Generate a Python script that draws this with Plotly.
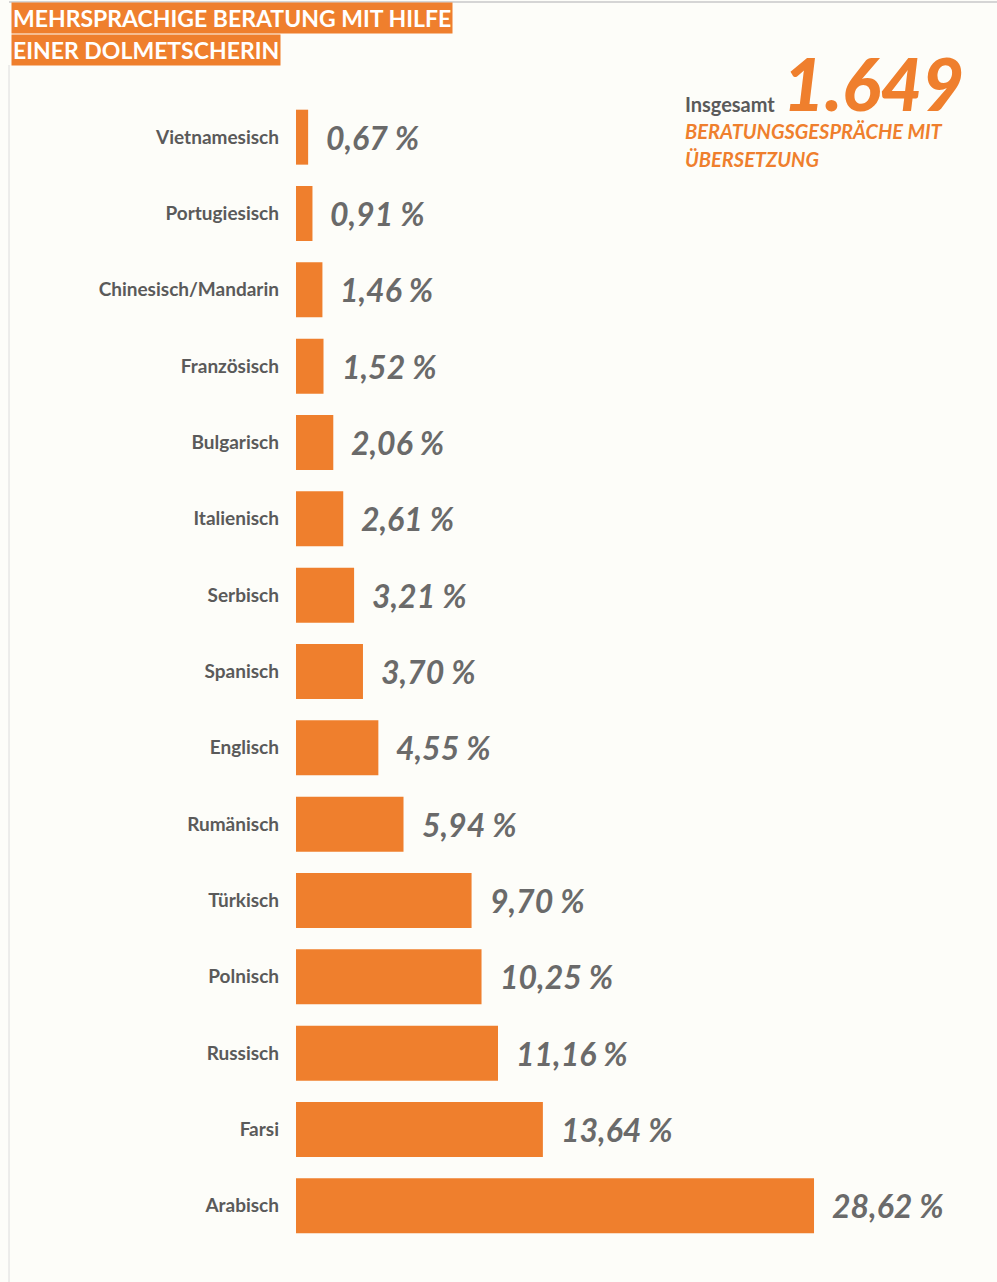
import plotly.graph_objects as go

categories = ["Vietnamesisch", "Portugiesisch", "Chinesisch/Mandarin", "Französisch",
              "Bulgarisch", "Italienisch", "Serbisch", "Spanisch", "Englisch",
              "Rumänisch", "Türkisch", "Polnisch", "Russisch", "Farsi", "Arabisch"]
values = [0.67, 0.91, 1.46, 1.52, 2.06, 2.61, 3.21, 3.70, 4.55, 5.94, 9.70, 10.25, 11.16, 13.64, 28.62]
value_labels = ["0,67 %", "0,91 %", "1,46 %", "1,52 %", "2,06 %", "2,61 %", "3,21 %", "3,70 %",
                "4,55 %", "5,94 %", "9,70 %", "10,25 %", "11,16 %", "13,64 %", "28,62 %"]
title_lines = ["MEHRSPRACHIGE BERATUNG MIT HILFE", "EINER DOLMETSCHERIN"]
total_label = "Insgesamt"
total_value = "1.649"
total_sub = ["BERATUNGSGESPRÄCHE MIT", "ÜBERSETZUNG"]

ORANGE = "#EF7F2D"
GREY = "#5a5a5a"
VGREY = "#6a6a6a"
BG = "#fdfdf9"
FONT = "Lato"

W, H = 997, 1282
PW, PH = 688, 1145
L, T = 296, 99
R, B = W - L - PW, H - T - PH

def px(x):
    return (x - L) / PW

def py(y):
    return 1 - (y - T) / PH

fig = go.Figure()
fig.add_trace(go.Bar(
    x=values, y=categories, orientation="h",
    marker=dict(color=ORANGE, line=dict(width=0)),
    width=0.72, hoverinfo="skip",
))

annotations = []
for c, v, t in zip(categories, values, value_labels):
    annotations.append(dict(
        x=v, y=c, xref="x", yref="y", text=t, showarrow=False,
        xanchor="left", yanchor="middle", xshift=16,
        font=dict(family=FONT, size=32, color=VGREY, weight="bold", style="italic"),
    ))

for i, line in enumerate(title_lines):
    annotations.append(dict(
        x=px(11), y=py(18 + 32 * i), xref="paper", yref="paper",
        text=line, showarrow=False, xanchor="left", yanchor="middle",
        bgcolor=ORANGE, borderpad=1,
        font=dict(family=FONT, size=23, color="white", weight="bold"),
    ))

annotations.append(dict(
    x=px(683), y=py(104), xref="paper", yref="paper", text=total_label,
    showarrow=False, xanchor="left", yanchor="middle",
    font=dict(family=FONT, size=20, color=GREY, weight="bold"),
))
annotations.append(dict(
    x=px(781), y=py(83), xref="paper", yref="paper", text=total_value,
    showarrow=False, xanchor="left", yanchor="middle",
    font=dict(family=FONT, size=72, color=ORANGE, weight=900, style="italic"),
))
for i, line in enumerate(total_sub):
    annotations.append(dict(
        x=px(683), y=py(131 + 28 * i), xref="paper", yref="paper", text=line,
        showarrow=False, xanchor="left", yanchor="middle",
        font=dict(family=FONT, size=20, color=ORANGE, weight="bold", style="italic"),
    ))

shapes = [
    dict(type="line", xref="paper", yref="paper", x0=px(9), x1=px(9), y0=py(65), y1=py(1282),
         line=dict(color="#dcdcdc", width=1)),
    dict(type="line", xref="paper", yref="paper", x0=px(9), x1=px(997), y0=py(2), y1=py(2),
         line=dict(color="#d5d5d5", width=2)),
]

fig.update_layout(
    width=W, height=H,
    margin=dict(l=L, r=R, t=T, b=B, pad=0),
    paper_bgcolor=BG, plot_bgcolor=BG,
    showlegend=False,
    xaxis=dict(range=[0, PW / 18.1], visible=False, fixedrange=True),
    yaxis=dict(autorange=False, range=[14.5, -0.5], categoryorder="array",
               categoryarray=categories, showgrid=False, zeroline=False,
               showline=False, ticks="", ticklabelstandoff=16,
               tickfont=dict(family=FONT, size=19, color=GREY, weight="bold")),
    annotations=annotations, shapes=shapes,
)

fig.write_html("out.html", config={"displayModeBar": False},
               post_script="document.body.style.margin='0';")
